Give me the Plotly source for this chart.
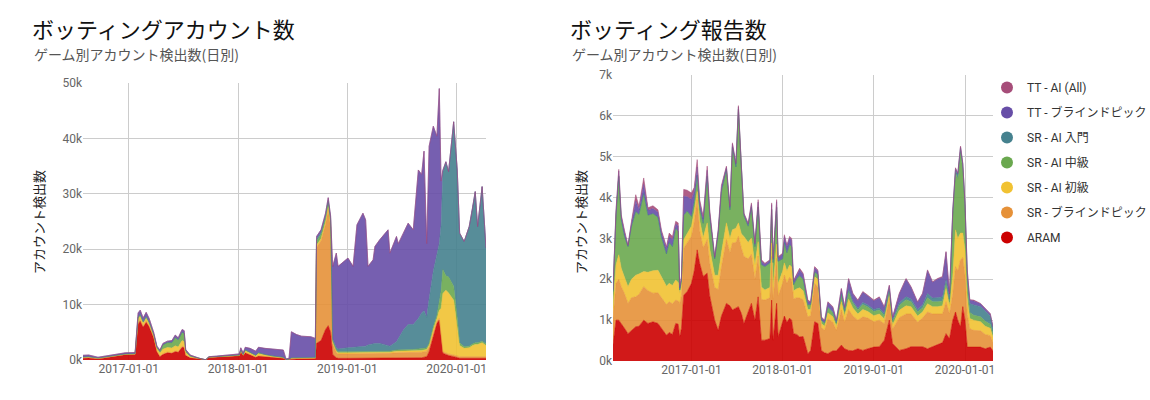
import plotly.graph_objects as go

# ---------------- series meta ----------------
SERIES = ["ARAM", "SR - ブラインドピック", "SR - AI 初級", "SR - AI 中級",
          "SR - AI 入門", "TT - ブラインドピック", "TT - AI (All)"]
COLORS = ["#cc0000", "#e69138", "#f1c232", "#6aa84f", "#45818e", "#674ea7", "#a64d79"]

# ---------------- left chart: ボッティングアカウント数 (values in thousands) ----------------
L_DATES = [
    "2016-08-01", "2016-08-20", "2016-09-20", "2016-10-20", "2016-11-20", "2016-12-20", "2017-01-22", "2017-02-01", "2017-02-08", "2017-02-18",
    "2017-02-28", "2017-03-10", "2017-03-25", "2017-04-05", "2017-04-15", "2017-04-25", "2017-05-10", "2017-05-25", "2017-06-05", "2017-06-15",
    "2017-06-28", "2017-07-05", "2017-07-10", "2017-07-25", "2017-08-10", "2017-08-25", "2017-09-15", "2017-09-25", "2017-10-20", "2017-11-20",
    "2017-12-20", "2018-01-05", "2018-01-10", "2018-01-18", "2018-01-25", "2018-02-10", "2018-03-01", "2018-03-10", "2018-04-01", "2018-05-01",
    "2018-06-01", "2018-06-10", "2018-06-20", "2018-06-28", "2018-07-15", "2018-08-01", "2018-09-01", "2018-09-16", "2018-09-20", "2018-10-05",
    "2018-10-20", "2018-10-29", "2018-11-06", "2018-11-13", "2018-11-25", "2018-12-01", "2019-01-03", "2019-01-20", "2019-02-02", "2019-02-22",
    "2019-03-03", "2019-03-11", "2019-03-28", "2019-04-03", "2019-04-19", "2019-05-17", "2019-05-23", "2019-06-14", "2019-06-20", "2019-07-07",
    "2019-07-23", "2019-08-09", "2019-08-26", "2019-09-06", "2019-09-14", "2019-09-23", "2019-10-01", "2019-10-15", "2019-10-27", "2019-11-04",
    "2019-11-10", "2019-11-16", "2019-11-26", "2019-12-05", "2019-12-22", "2020-01-03", "2020-01-11", "2020-01-26", "2020-02-12", "2020-02-23",
    "2020-03-03", "2020-03-11", "2020-03-26", "2020-04-08",
]
L_ARAM = [
    0.30, 0.35, 0.20, 0.45, 0.75, 0.95, 1.00, 6.50, 7.00, 5.90,
    6.80, 6.00, 4.00, 1.50, 0.60, 1.00, 1.30, 1.20, 1.50, 1.40,
    2.30, 2.20, 0.80, 0.40, 0.30, 0.15, 0.03, 0.45, 0.50, 0.65,
    0.70, 0.75, 1.50, 0.80, 1.30, 0.90, 0.50, 0.70, 0.60, 0.40,
    0.30, 0.05, 0.10, 0.20, 0.20, 0.20, 0.20, 0.20, 3.00, 3.50,
    5.50, 6.20, 5.00, 1.00, 0.40, 0.30, 0.30, 0.30, 0.30, 0.30,
    0.30, 0.30, 0.30, 0.30, 0.30, 0.30, 0.30, 0.30, 0.30, 0.30,
    0.30, 0.30, 0.40, 0.40, 0.50, 0.60, 1.50, 4.50, 6.60, 7.20,
    4.00, 1.20, 1.00, 0.80, 0.60, 0.40, 0.30, 0.30, 0.30, 0.30,
    0.30, 0.30, 0.30, 0.30,
]
L_SR_BLIND = [
    0.10, 0.10, 0.05, 0.05, 0.05, 0.05, 0.05, 0.30, 0.30, 0.25,
    0.25, 0.20, 0.15, 0.10, 0.10, 0.15, 0.15, 0.15, 0.15, 0.15,
    0.20, 0.20, 0.10, 0.05, 0.05, 0.02, 0.00, 0.02, 0.03, 0.03,
    0.03, 0.03, 0.05, 0.05, 0.05, 0.05, 0.05, 0.05, 0.05, 0.05,
    0.05, 0.02, 0.02, 0.10, 0.10, 0.10, 0.10, 0.15, 17.30, 18.00,
    19.00, 21.00, 19.00, 2.00, 1.00, 0.80, 0.80, 0.80, 0.80, 0.80,
    0.80, 0.80, 0.80, 0.80, 0.90, 0.90, 0.90, 1.00, 1.00, 1.00,
    1.00, 1.00, 1.00, 1.00, 1.00, 1.00, 0.80, 0.60, 0.40, 0.30,
    0.30, 0.30, 0.30, 0.30, 0.30, 0.30, 0.30, 0.30, 0.30, 0.30,
    0.30, 0.30, 0.30, 0.30,
]
L_SR_AI_BEG = [
    0.10, 0.10, 0.05, 0.05, 0.05, 0.05, 0.05, 0.60, 0.60, 0.50,
    0.50, 0.40, 0.30, 0.40, 0.50, 0.80, 0.80, 0.80, 0.90, 0.80,
    1.00, 0.90, 0.40, 0.15, 0.10, 0.05, 0.00, 0.03, 0.03, 0.05,
    0.05, 0.07, 0.20, 0.10, 0.30, 0.30, 0.20, 0.40, 0.25, 0.20,
    0.10, 0.02, 0.02, 0.05, 0.05, 0.05, 0.05, 0.05, 0.40, 0.40,
    0.40, 0.50, 0.40, 0.30, 0.20, 0.20, 0.20, 0.20, 0.20, 0.20,
    0.20, 0.20, 0.20, 0.20, 0.20, 0.20, 0.20, 0.30, 0.30, 0.30,
    0.30, 0.30, 0.30, 0.30, 0.30, 0.30, 0.40, 0.50, 0.50, 1.50,
    5.00, 10.50, 11.30, 11.00, 9.90, 5.30, 2.00, 1.50, 1.60, 2.00,
    2.20, 2.20, 2.50, 2.00,
]
L_SR_AI_MID = [
    0.05, 0.05, 0.05, 0.05, 0.05, 0.05, 0.05, 0.30, 0.30, 0.25,
    0.30, 0.25, 0.20, 0.30, 0.40, 0.80, 0.90, 1.00, 1.50, 1.30,
    1.50, 1.50, 0.40, 0.15, 0.05, 0.03, 0.00, 0.02, 0.03, 0.03,
    0.02, 0.05, 0.05, 0.05, 0.20, 0.20, 0.10, 0.20, 0.10, 0.05,
    0.05, 0.01, 0.01, 0.05, 0.05, 0.05, 0.05, 0.05, 0.80, 0.80,
    0.80, 0.80, 0.80, 0.20, 0.20, 0.20, 0.20, 0.20, 0.20, 0.20,
    0.20, 0.20, 0.20, 0.20, 0.20, 0.20, 0.20, 0.20, 0.20, 0.30,
    0.30, 0.30, 0.30, 0.30, 0.30, 0.30, 0.30, 0.40, 0.50, 1.50,
    3.00, 4.30, 2.60, 2.90, 2.50, 1.50, 0.50, 0.30, 0.30, 0.30,
    0.30, 0.30, 0.30, 0.30,
]
L_SR_AI_INTRO = [
    0.00, 0.00, 0.00, 0.00, 0.00, 0.00, 0.00, 0.00, 0.00, 0.00,
    0.00, 0.00, 0.00, 0.00, 0.00, 0.00, 0.00, 0.00, 0.00, 0.00,
    0.00, 0.00, 0.00, 0.00, 0.00, 0.00, 0.00, 0.00, 0.00, 0.00,
    0.00, 0.00, 0.00, 0.00, 0.00, 0.00, 0.00, 0.00, 0.00, 0.00,
    0.00, 0.00, 0.00, 0.00, 0.00, 0.00, 0.00, 0.05, 0.30, 0.30,
    0.30, 0.30, 0.30, 0.30, 0.40, 0.50, 0.70, 0.80, 0.90, 1.00,
    1.00, 1.20, 1.50, 1.50, 1.40, 1.00, 0.90, 1.50, 2.00, 3.50,
    4.50, 4.50, 5.50, 6.50, 6.80, 5.50, 8.00, 10.00, 11.00, 10.50,
    12.00, 17.70, 20.50, 19.00, 29.70, 26.80, 19.80, 19.00, 21.60, 24.50,
    27.30, 21.00, 27.90, 17.30,
]
L_TT_BLIND = [
    0.30, 0.30, 0.15, 0.20, 0.20, 0.20, 0.20, 0.80, 0.80, 0.70,
    0.75, 0.65, 0.35, 0.20, 0.20, 0.25, 0.25, 0.35, 0.45, 0.35,
    0.50, 0.50, 0.20, 0.15, 0.10, 0.05, 0.02, 0.08, 0.11, 0.14,
    0.20, 0.20, 0.40, 0.30, 0.45, 0.65, 0.75, 0.95, 1.10, 1.30,
    1.30, 0.10, 0.15, 4.70, 4.20, 3.90, 3.80, 3.40, 0.50, 0.50,
    0.50, 0.50, 0.50, 13.10, 17.10, 14.90, 16.20, 14.60, 22.00, 24.00,
    22.80, 14.20, 15.10, 17.50, 18.70, 20.90, 16.80, 19.00, 17.20, 17.50,
    18.30, 17.10, 26.80, 25.00, 28.80, 13.30, 27.60, 26.20, 21.40, 28.00,
    8.00, 0.30, 0.10, 0.00, 0.00, 0.00, 0.00, 0.00, 0.00, 0.00,
    0.00, 0.00, 0.00, 0.00,
]
L_TT_AI = [
    0.00, 0.00, 0.00, 0.00, 0.00, 0.00, 0.00, 0.00, 0.00, 0.00,
    0.00, 0.00, 0.00, 0.00, 0.00, 0.00, 0.00, 0.00, 0.00, 0.00,
    0.00, 0.00, 0.00, 0.00, 0.00, 0.00, 0.00, 0.00, 0.00, 0.00,
    0.00, 0.00, 0.00, 0.00, 0.00, 0.00, 0.00, 0.00, 0.00, 0.00,
    0.00, 0.00, 0.00, 0.00, 0.00, 0.00, 0.00, 0.00, 0.00, 0.00,
    0.00, 0.00, 0.00, 0.00, 0.00, 0.00, 0.00, 0.00, 0.00, 0.00,
    0.00, 0.00, 0.00, 0.00, 0.00, 0.00, 0.00, 0.00, 0.00, 0.00,
    0.00, 0.00, 0.00, 0.00, 0.00, 0.00, 0.00, 0.00, 0.00, 0.00,
    0.00, 0.00, 0.00, 0.00, 0.00, 0.00, 0.00, 0.00, 0.00, 0.00,
    0.00, 0.00, 0.00, 0.00,
]

# ---------------- right chart: ボッティング報告数 (values in thousands) ----------------
R_DATES = [
    "2016-02-22", "2016-03-05", "2016-03-16", "2016-03-26", "2016-04-08", "2016-04-22", "2016-05-06", "2016-05-23", "2016-06-05", "2016-06-24",
    "2016-07-11", "2016-07-31", "2016-08-20", "2016-09-03", "2016-09-23", "2016-10-04", "2016-10-17", "2016-10-30", "2016-11-09", "2016-11-15",
    "2016-11-22", "2016-12-01", "2016-12-15", "2017-01-01", "2017-01-12", "2017-01-24", "2017-02-03", "2017-02-17", "2017-03-05", "2017-03-15",
    "2017-04-04", "2017-04-18", "2017-05-01", "2017-05-21", "2017-06-04", "2017-06-14", "2017-06-28", "2017-07-08", "2017-07-20", "2017-07-30",
    "2017-08-16", "2017-08-29", "2017-09-12", "2017-09-25", "2017-10-08", "2017-10-22", "2017-11-11", "2017-11-18", "2017-11-24", "2017-12-08",
    "2017-12-14", "2018-01-01", "2018-01-08", "2018-01-18", "2018-01-29", "2018-02-06", "2018-02-14", "2018-02-27", "2018-03-10", "2018-03-24",
    "2018-04-12", "2018-04-23", "2018-05-09", "2018-05-22", "2018-06-05", "2018-06-18", "2018-07-01", "2018-07-21", "2018-08-04", "2018-08-24",
    "2018-09-06", "2018-09-22", "2018-10-09", "2018-10-29", "2018-11-18", "2018-12-08", "2019-01-01", "2019-01-23", "2019-02-12", "2019-03-04",
    "2019-03-17", "2019-04-13", "2019-05-10", "2019-05-30", "2019-06-25", "2019-07-15", "2019-08-04", "2019-08-24", "2019-09-13", "2019-10-03",
    "2019-10-17", "2019-10-31", "2019-11-13", "2019-11-24", "2019-12-03", "2019-12-14", "2019-12-23", "2020-01-01", "2020-01-10", "2020-01-20",
    "2020-02-05", "2020-03-03", "2020-03-22", "2020-04-11", "2020-04-22",
]
R_ARAM = [
    0.40, 1.00, 1.00, 0.92, 0.80, 0.67, 0.75, 0.84, 0.85, 1.00,
    0.92, 0.96, 0.92, 0.80, 0.63, 0.70, 0.65, 0.92, 0.90, 0.59,
    0.80, 1.61, 1.70, 1.90, 2.20, 2.72, 2.39, 2.07, 2.15, 1.60,
    1.00, 0.75, 1.10, 1.41, 1.35, 1.25, 1.30, 1.33, 1.16, 0.92,
    1.20, 1.41, 1.00, 1.57, 0.51, 0.51, 0.55, 1.49, 0.51, 1.41,
    0.59, 1.00, 1.10, 0.95, 1.05, 1.00, 0.67, 0.65, 0.59, 0.60,
    0.18, 0.26, 0.96, 0.92, 0.26, 0.20, 0.18, 0.25, 0.25, 0.39,
    0.30, 0.26, 0.25, 0.30, 0.26, 0.30, 0.34, 0.35, 0.51, 1.00,
    0.43, 0.26, 0.30, 0.35, 0.35, 0.35, 0.30, 0.35, 0.40, 0.45,
    0.67, 0.55, 1.00, 1.20, 1.00, 0.84, 1.33, 1.00, 0.34, 0.34,
    0.34, 0.34, 0.30, 0.34, 0.25,
]
R_SR_BLIND = [
    0.65, 0.90, 1.00, 0.90, 0.85, 0.74, 0.80, 0.73, 0.78, 0.82,
    0.80, 0.70, 0.75, 0.75, 0.75, 0.75, 0.75, 0.57, 0.57, 0.82,
    0.80, 1.15, 1.20, 1.15, 1.20, 1.23, 0.80, 0.70, 0.82, 0.80,
    0.80, 1.00, 1.20, 1.56, 1.30, 1.64, 1.60, 1.72, 1.60, 1.64,
    1.30, 1.20, 1.00, 1.00, 1.00, 0.98, 1.00, 1.07, 1.00, 1.10,
    1.00, 0.90, 1.00, 0.95, 1.00, 1.00, 0.85, 0.90, 0.95, 0.90,
    0.90, 0.85, 0.94, 0.90, 0.56, 0.55, 0.85, 0.70, 0.50, 0.86,
    0.65, 1.00, 0.85, 0.70, 0.82, 0.75, 0.62, 0.65, 0.40, 0.53,
    0.35, 0.80, 0.85, 0.80, 0.60, 0.70, 0.90, 0.80, 0.75, 0.70,
    0.78, 0.60, 0.66, 1.11, 1.20, 1.64, 1.20, 1.10, 0.80, 0.45,
    0.41, 0.40, 0.35, 0.28, 0.20,
]
R_SR_AI_BEG = [
    0.25, 0.45, 0.60, 0.45, 0.40, 0.41, 0.45, 0.53, 0.50, 0.37,
    0.45, 0.55, 0.55, 0.50, 0.45, 0.45, 0.45, 0.49, 0.45, 0.25,
    0.25, 0.21, 0.22, 0.25, 0.25, 0.20, 0.25, 0.25, 0.41, 0.35,
    0.30, 0.35, 0.35, 0.41, 0.35, 0.32, 0.35, 0.33, 0.35, 0.49,
    0.40, 0.40, 0.35, 0.35, 0.30, 0.25, 0.25, 0.33, 0.30, 0.35,
    0.30, 0.30, 0.30, 0.30, 0.30, 0.30, 0.20, 0.22, 0.25, 0.22,
    0.18, 0.15, 0.16, 0.18, 0.10, 0.10, 0.15, 0.13, 0.10, 0.20,
    0.15, 0.25, 0.20, 0.15, 0.18, 0.16, 0.15, 0.15, 0.12, 0.10,
    0.10, 0.18, 0.20, 0.18, 0.15, 0.15, 0.20, 0.18, 0.18, 0.20,
    0.33, 0.20, 0.41, 0.90, 0.80, 0.65, 0.60, 0.60, 0.40, 0.25,
    0.25, 0.22, 0.20, 0.18, 0.13,
]
R_SR_AI_MID = [
    0.40, 1.20, 1.92, 1.19, 1.00, 0.98, 1.30, 1.56, 1.46, 1.91,
    1.40, 1.40, 1.30, 0.98, 0.79, 1.00, 0.95, 1.27, 1.25, 0.08,
    0.12, 0.60, 0.55, 0.24, 0.25, 0.40, 0.31, 0.35, 1.14, 0.80,
    0.40, 1.00, 1.50, 1.31, 0.70, 2.03, 1.50, 2.78, 1.60, 0.51,
    0.40, 0.75, 0.45, 0.85, 0.55, 0.57, 0.60, 0.82, 0.60, 0.90,
    0.55, 0.30, 0.50, 0.45, 0.50, 0.50, 0.15, 0.25, 0.30, 0.28,
    0.12, 0.12, 0.12, 0.12, 0.08, 0.08, 0.12, 0.10, 0.07, 0.16,
    0.10, 0.20, 0.12, 0.10, 0.12, 0.11, 0.10, 0.10, 0.08, 0.08,
    0.08, 0.12, 0.15, 0.12, 0.10, 0.10, 0.15, 0.12, 0.12, 0.12,
    0.12, 0.10, 1.48, 1.39, 1.45, 1.97, 1.57, 1.00, 0.30, 0.15,
    0.12, 0.12, 0.12, 0.10, 0.07,
]
R_SR_AI_INTRO = [
    0.00, 0.00, 0.00, 0.00, 0.00, 0.00, 0.00, 0.00, 0.00, 0.00,
    0.00, 0.00, 0.00, 0.00, 0.00, 0.00, 0.00, 0.00, 0.00, 0.00,
    0.00, 0.00, 0.00, 0.00, 0.00, 0.00, 0.00, 0.00, 0.00, 0.00,
    0.00, 0.00, 0.00, 0.00, 0.00, 0.00, 0.00, 0.00, 0.00, 0.00,
    0.00, 0.00, 0.00, 0.00, 0.00, 0.00, 0.00, 0.00, 0.00, 0.00,
    0.00, 0.00, 0.00, 0.00, 0.00, 0.00, 0.00, 0.00, 0.00, 0.00,
    0.00, 0.00, 0.00, 0.00, 0.00, 0.00, 0.02, 0.02, 0.02, 0.03,
    0.03, 0.04, 0.04, 0.04, 0.05, 0.05, 0.05, 0.05, 0.05, 0.05,
    0.04, 0.06, 0.07, 0.07, 0.06, 0.07, 0.10, 0.09, 0.10, 0.10,
    0.08, 0.06, 0.08, 0.08, 0.10, 0.12, 0.11, 0.13, 0.25, 0.22,
    0.25, 0.25, 0.25, 0.20, 0.15,
]
R_TT_BLIND = [
    0.03, 0.10, 0.13, 0.08, 0.10, 0.02, 0.08, 0.25, 0.12, 0.22,
    0.12, 0.12, 0.12, 0.12, 0.13, 0.15, 0.17, 0.10, 0.14, 0.05,
    0.07, 0.46, 0.35, 0.41, 0.25, 0.20, 0.12, 0.10, 0.15, 0.10,
    0.04, 0.08, 0.10, 0.05, 0.06, 0.07, 0.07, 0.06, 0.04, 0.04,
    0.05, 0.07, 0.06, 0.12, 0.08, 0.06, 0.06, 0.12, 0.08, 0.14,
    0.08, 0.12, 0.15, 0.15, 0.16, 0.16, 0.08, 0.10, 0.14, 0.12,
    0.08, 0.05, 0.10, 0.08, 0.06, 0.05, 0.11, 0.11, 0.05, 0.12,
    0.09, 0.25, 0.18, 0.18, 0.25, 0.22, 0.21, 0.25, 0.15, 0.08,
    0.06, 0.22, 0.43, 0.28, 0.17, 0.27, 0.56, 0.38, 0.45, 0.48,
    0.68, 0.13, 0.05, 0.03, 0.03, 0.02, 0.02, 0.02, 0.12, 0.08,
    0.10, 0.07, 0.06, 0.05, 0.03,
]
R_TT_AI = [
    0.02, 0.05, 0.04, 0.04, 0.05, 0.02, 0.04, 0.16, 0.08, 0.16,
    0.06, 0.07, 0.06, 0.05, 0.05, 0.08, 0.08, 0.07, 0.07, 0.03,
    0.03, 0.17, 0.16, 0.16, 0.10, 0.18, 0.08, 0.07, 0.10, 0.05,
    0.02, 0.03, 0.05, 0.03, 0.03, 0.03, 0.03, 0.03, 0.02, 0.02,
    0.03, 0.04, 0.03, 0.06, 0.04, 0.02, 0.02, 0.04, 0.04, 0.05,
    0.03, 0.02, 0.04, 0.04, 0.04, 0.04, 0.03, 0.03, 0.04, 0.03,
    0.03, 0.02, 0.03, 0.03, 0.02, 0.02, 0.02, 0.02, 0.01, 0.02,
    0.01, 0.02, 0.02, 0.02, 0.02, 0.02, 0.02, 0.02, 0.02, 0.02,
    0.02, 0.02, 0.02, 0.02, 0.02, 0.02, 0.02, 0.02, 0.02, 0.02,
    0.02, 0.02, 0.02, 0.02, 0.02, 0.02, 0.02, 0.02, 0.02, 0.01,
    0.02, 0.01, 0.01, 0.01, 0.01,
]

L_VALUES = [L_ARAM, L_SR_BLIND, L_SR_AI_BEG, L_SR_AI_MID, L_SR_AI_INTRO, L_TT_BLIND, L_TT_AI]
R_VALUES = [R_ARAM, R_SR_BLIND, R_SR_AI_BEG, R_SR_AI_MID, R_SR_AI_INTRO, R_TT_BLIND, R_TT_AI]


def rgba(hex_color, a):
    h = hex_color.lstrip("#")
    r, g, b = int(h[0:2], 16), int(h[2:4], 16), int(h[4:6], 16)
    return f"rgba({r},{g},{b},{a})"


fig = go.Figure()

for dates, values, grp, xa, ya in [(L_DATES, L_VALUES, "L", "x", "y"),
                                   (R_DATES, R_VALUES, "R", "x2", "y2")]:
    for name, col, vals in zip(SERIES, COLORS, values):
        fig.add_trace(go.Scatter(
            x=dates, y=vals, name=name, stackgroup=grp, mode="lines",
            line=dict(width=0.6, color=rgba(col, 0.9)),
            fillcolor=rgba(col, 0.9), showlegend=False, hoverinfo="skip",
            xaxis=xa, yaxis=ya,
        ))

# legend entries (top to bottom)
for name, col in reversed(list(zip(SERIES, COLORS))):
    fig.add_trace(go.Scatter(
        x=[None], y=[None], mode="markers", name=name, legendgroup=name,
        marker=dict(size=11, color=col, symbol="circle"),
        xaxis="x2", yaxis="y2",
    ))

W, H = 1150, 400
FONT = "Roboto, 'Noto Sans CJK JP', sans-serif"
JP = "'Noto Sans CJK JP', Roboto, sans-serif"

xcommon = dict(type="date", tick0="2017-01-01", dtick="M12", tickformat="%Y-%m-%d",
               showgrid=True, gridcolor="#cccccc", gridwidth=1, zeroline=False,
               showline=False, ticks="", automargin=False,
               tickfont=dict(size=12, color="#666666"))
ycommon = dict(showgrid=True, gridcolor="#cccccc", gridwidth=1, zeroline=False,
               showline=False, ticks="", ticksuffix="k", automargin=False,
               tickfont=dict(size=12, color="#666666"))

fig.update_layout(
    width=W, height=H,
    margin=dict(l=0, r=0, t=0, b=0, pad=0, autoexpand=False),
    paper_bgcolor="white", plot_bgcolor="white",
    font=dict(family=FONT, size=12, color="#666666"),
    xaxis=dict(domain=[83 / W, 486 / W], range=["2016-08-01", "2020-04-08"], anchor="y", **xcommon),
    yaxis=dict(domain=[1 - 360 / H, 1 - 83 / H], range=[0, 50], dtick=10, anchor="x", **ycommon),
    xaxis2=dict(domain=[613 / W, 993 / W], range=["2016-02-22", "2020-04-22"], anchor="y2", **xcommon),
    yaxis2=dict(domain=[1 - 361 / H, 1 - 75 / H], range=[0, 7], dtick=1, anchor="x2", **ycommon),
    legend=dict(x=987 / W, y=1 - 73 / H, xanchor="left", yanchor="top",
                font=dict(family=FONT, size=12, color="#333333"),
                bgcolor="rgba(0,0,0,0)", tracegroupgap=6, itemsizing="constant"),
    showlegend=True,
)

annots = [
    dict(text="ボッティングアカウント数", x=30 / W, y=1 - 28 / H, size=22, color="#111111"),
    dict(text="ゲーム別アカウント検出数(日別)", x=32 / W, y=1 - 54 / H, size=14, color="#555555"),
    dict(text="ボッティング報告数", x=568 / W, y=1 - 28 / H, size=22, color="#111111"),
    dict(text="ゲーム別アカウント検出数(日別)", x=570 / W, y=1 - 54 / H, size=14, color="#555555"),
]
for a in annots:
    fig.add_annotation(text=a["text"], x=a["x"], y=a["y"], xref="paper", yref="paper",
                       xanchor="left", yanchor="middle", showarrow=False,
                       font=dict(family=JP, size=a["size"], color=a["color"]))

for xc in (38, 580):
    fig.add_annotation(text="アカウント検出数", x=xc / W, y=1 - 222 / H, xref="paper", yref="paper",
                       xanchor="center", yanchor="middle", showarrow=False, textangle=-90,
                       font=dict(family=JP, size=13, color="#222222"))

fig.write_html("out.html",
               config={"displayModeBar": False},
               post_script="document.body.style.margin='0px';document.body.style.padding='0px';")
